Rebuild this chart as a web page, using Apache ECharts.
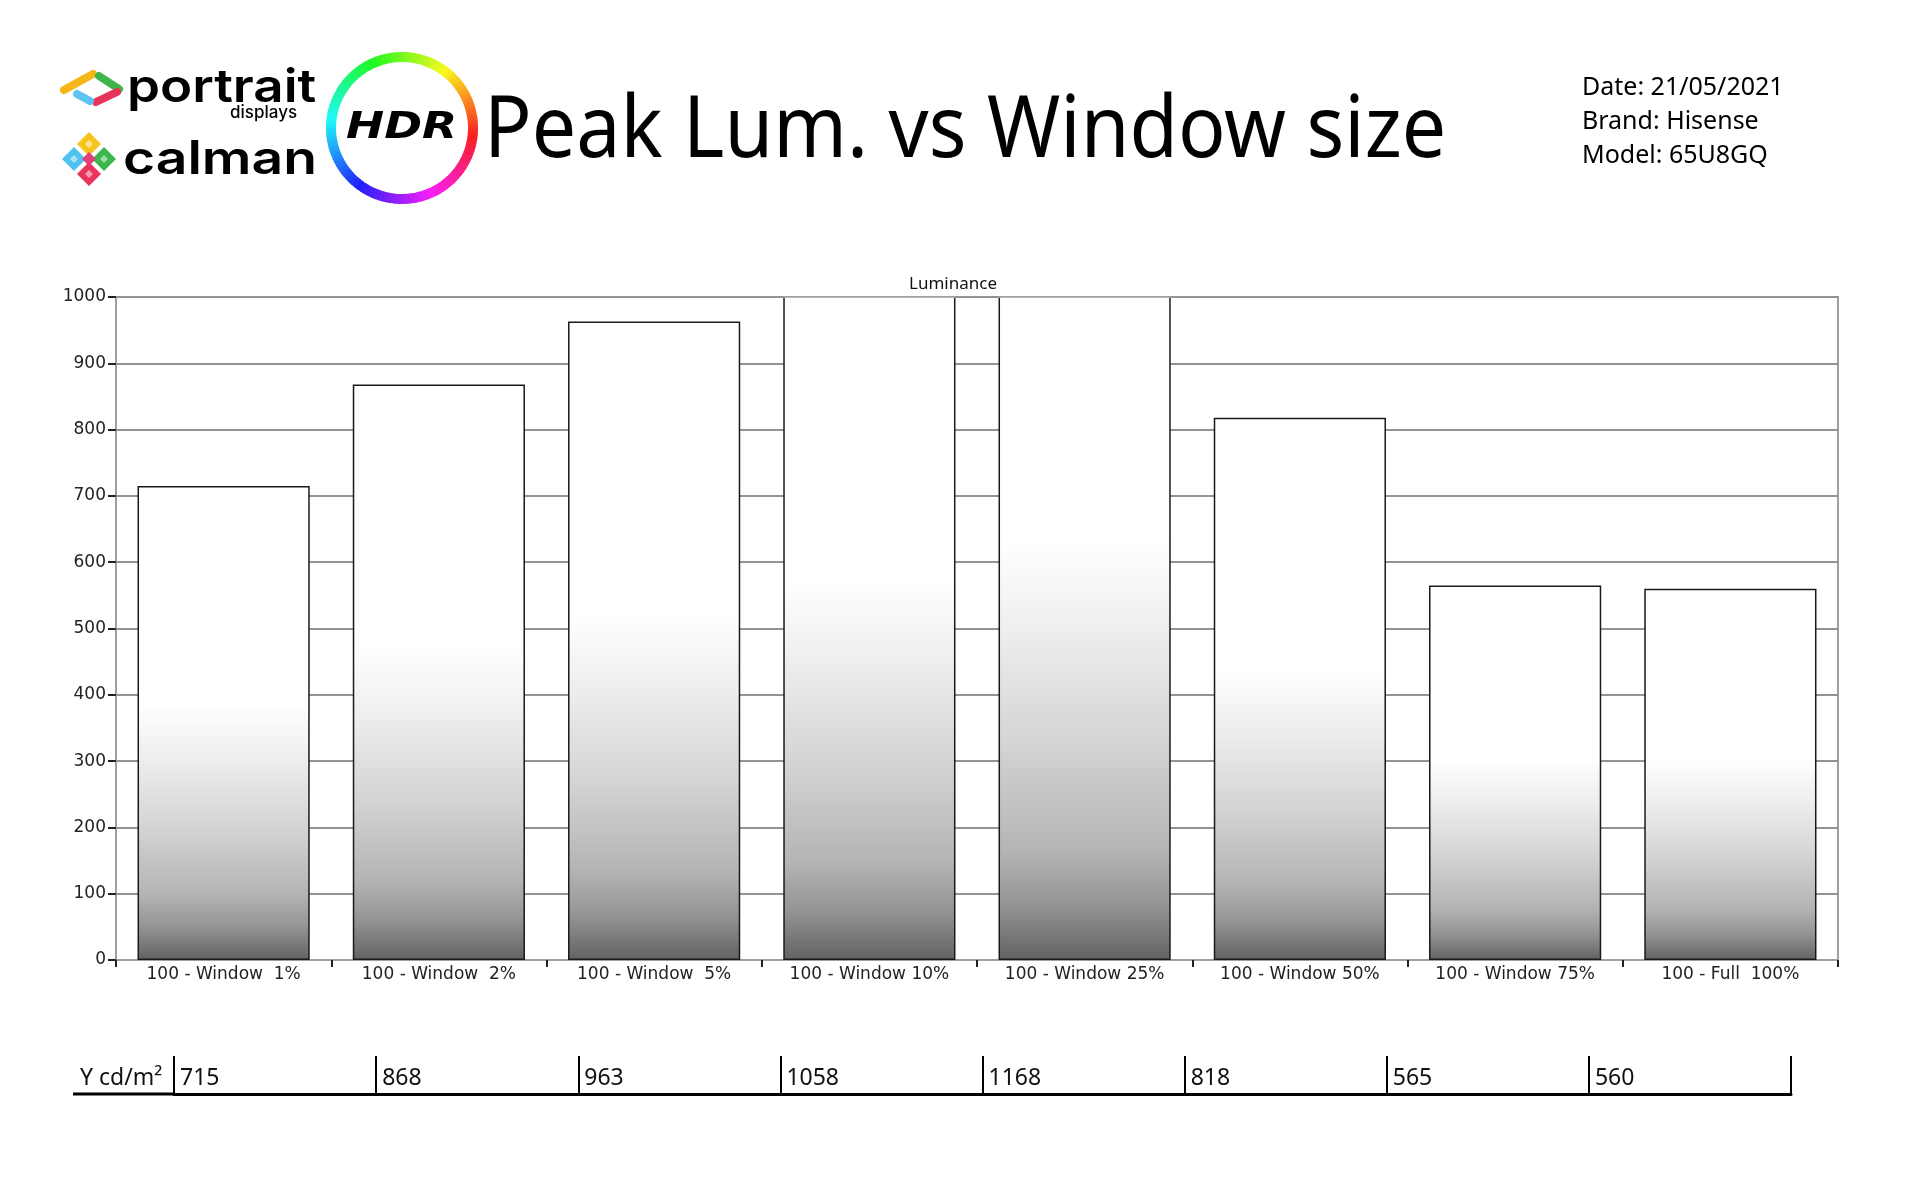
<!DOCTYPE html>
<html><head><meta charset="utf-8">
<script src="https://cdn.jsdelivr.net/npm/echarts@6/dist/echarts.min.js"></script>
<style>html,body{margin:0;padding:0;background:#fff}#c{width:1920px;height:1200px}</style>
</head><body><div id="c"></div>
<script>
// ---- data ----
const categories = ['100 - Window  1%', '100 - Window  2%', '100 - Window  5%', '100 - Window 10%', '100 - Window 25%', '100 - Window 50%', '100 - Window 75%', '100 - Full  100%'];
const luminance = [715, 868, 963, 1058, 1168, 818, 565, 560];
const yMin = 0;
const yMax = 1000;
const yInterval = 100;
const tableHeader = 'Y cd/m\u00B2';
const infoLines = ['Date: 21/05/2021', 'Brand: Hisense', 'Model: 65U8GQ'];
const mainTitle = 'Peak Lum. vs Window size';
const chartTitle = 'Luminance';

// ---- styling helpers ----
const baseStops = [[0,'#ffffff'],[0.46,'#ffffff'],[0.58,'#ededed'],[0.72,'#d4d4d4'],[0.86,'#b4b4b4'],[0.93,'#949494'],[1,'#626262']];
function barGradient(v){
  const stops = baseStops.map(function(s){
    let off = s[0];
    if (v > yMax) off = (s[0]*v - (v - yMax)) / yMax;
    return {offset: Math.max(0, Math.min(1, off)), color: s[1]};
  });
  return new echarts.graphic.LinearGradient(0, 0, 0, 1, stops);
}
// clipped bars: top edge coincides with the plot frame, keep it grey like the frame
function barBorder(v){
  if (v <= yMax) return '#1a1a1a';
  return new echarts.graphic.LinearGradient(0, 0, 0, 1, [
    {offset:0, color:'#a0a0a0'}, {offset:0.002, color:'#a0a0a0'},
    {offset:0.003, color:'#1a1a1a'}, {offset:1, color:'#1a1a1a'}]);
}
function txt(x, y, text, size, family, opts){
  opts = opts || {};
  return Object.assign({
    type: 'text', x: x, y: y, silent: true,
    style: Object.assign({text: text, fontSize: size, fontFamily: family, fill: '#000',
      align: 'left', verticalAlign: 'middle', textAlign: 'left', textVerticalAlign: 'middle'}, opts.style || {})
  }, opts.el || {});
}
function diamond(cx, cy, h, color){
  return {type:'polygon', silent:true, shape:{points:[[cx,cy-h],[cx+h,cy],[cx,cy+h],[cx-h,cy]]}, style:{fill:color}};
}

const graphics = [];
// HDR ring
const N = 120;
for (let i = 0; i < N; i++) {
  const a0 = i / N * 2 * Math.PI, a1 = (i + 1.2) / N * 2 * Math.PI;
  const hue = (i / N * 360 + 8) % 360;
  graphics.push({type:'arc', silent:true, shape:{cx:402, cy:128, r:71, startAngle:-a1, endAngle:-a0},
    style:{stroke:'hsl(' + hue.toFixed(1) + ',95%,55%)', lineWidth:10, fill:null}});
}
graphics.push(txt(346, 128, 'HDR', 38, 'DejaVu Sans', {style:{fontWeight:'bold', fontStyle:'italic'}, el:{scaleX:1.2}}));
// portrait icon
[['#f5b617',[[64,90],[93,74]]],['#3db54b',[[99,76],[119,89]]],['#e8345b',[[117,92],[96,102]]],['#5fc4ef',[[77,94],[90,101]]]].forEach(function(p){
  graphics.push({type:'line', silent:true, shape:{x1:p[1][0][0], y1:p[1][0][1], x2:p[1][1][0], y2:p[1][1][1]}, style:{stroke:p[0], lineWidth:8, lineCap:'round'}});
});
// calman icon
graphics.push(diamond(89, 144, 12, '#f7c21a'));
graphics.push(diamond(74, 159, 12, '#4fc3f0'));
graphics.push(diamond(104, 159, 12, '#3cb54a'));
graphics.push(diamond(89, 174, 12, '#e8335a'));
graphics.push(diamond(89, 159, 7, '#e2407a'));
graphics.push(diamond(89, 144, 4, '#ffe38a'));
graphics.push(diamond(74, 159, 4, '#a9e2f8'));
graphics.push(diamond(104, 159, 4, '#9bdca2'));
graphics.push(diamond(89, 174, 4, '#f59ab0'));
graphics.push(txt(127, 88, 'portrait', 46, 'Inter', {style:{fontWeight:600}, el:{scaleX:1.15}}));
graphics.push(txt(230, 113, 'displays', 17, 'Inter', {style:{fontWeight:500}}));
graphics.push(txt(123, 160, 'calman', 46, 'Inter', {style:{fontWeight:600}, el:{scaleX:1.2}}));
// titles and info
graphics.push(txt(484, 133, mainTitle, 85, 'Noto Sans', {el:{scaleX:0.928}}));
infoLines.forEach(function(l, i){ graphics.push(txt(1582, 88 + i * 34, l, 25, 'Noto Sans')); });
graphics.push(txt(953, 284, chartTitle, 17, 'Noto Sans', {style:{align:'center', textAlign:'center', fill:'#111'}}));
// table header
graphics.push(txt(80, 1078, tableHeader, 23, 'Noto Sans', {style:{fill:'#111'}}));
graphics.push({type:'line', silent:true, shape:{x1:73, y1:1094, x2:175, y2:1094}, style:{stroke:'#000', lineWidth:3}});

const chart = echarts.init(document.getElementById('c'), null, {renderer:'canvas'});
chart.setOption({
  animation: false,
  backgroundColor: '#ffffff',
  grid: [
    {left:116, right:82, top:297, bottom:240, show:true, borderColor:'#a0a0a0', borderWidth:2, outerBoundsMode:'none', containLabel:false},
    {left:174, right:129, top:1056, height:38, outerBoundsMode:'none', containLabel:false}
  ],
  xAxis: [
    {gridIndex:0, type:'category', data:categories,
      axisLine:{show:true, lineStyle:{color:'#a0a0a0', width:2}},
      axisTick:{show:true, interval:0, length:7, lineStyle:{color:'#222', width:2}},
      axisLabel:{interval:0, fontFamily:'DejaVu Sans', fontSize:17, color:'#222', margin:6},
      splitLine:{show:false}},
    {gridIndex:1, type:'category', data:categories,
      axisLine:{show:true, lineStyle:{color:'#000', width:3}},
      axisTick:{show:true, interval:0, inside:true, length:38, lineStyle:{color:'#000', width:2}},
      axisLabel:{show:false}, splitLine:{show:false}}
  ],
  yAxis: [
    {gridIndex:0, type:'value', min:yMin, max:yMax, interval:yInterval,
      axisLine:{show:true, lineStyle:{color:'#a0a0a0', width:2}},
      axisTick:{show:true, length:8, lineStyle:{color:'#222', width:2}},
      axisLabel:{fontFamily:'DejaVu Sans', fontSize:17, color:'#222', margin:10, formatter:function(v){ return String(v); }},
      splitLine:{show:true, lineStyle:{color:'#939393', width:2}}},
    {gridIndex:1, type:'value', min:0, max:1, show:false}
  ],
  series: [
    {type:'bar', name:chartTitle, xAxisIndex:0, yAxisIndex:0, barCategoryGap:'20%', clip:true, silent:true,
      itemStyle:{borderColor:'#1a1a1a', borderWidth:1.5},
      data: luminance.map(function(v){ return {value:v, itemStyle:{color:barGradient(v), borderColor:barBorder(v)}}; })},
    {type:'custom', xAxisIndex:1, yAxisIndex:1, silent:true,
      data: luminance.map(function(v, i){ return [i, v]; }),
      encode:{x:0, y:1},
      renderItem: function(params, api){
        const c = api.coord([api.value(0), 0]);
        const bw = api.size([1, 0])[0];
        return {type:'text', x:c[0] - bw/2 + 6, y:c[1] - 16,
          style:{text:String(api.value(1)), fontFamily:'Noto Sans', fontSize:23, fill:'#111', align:'left', verticalAlign:'middle'}};
      }}
  ],
  graphic: graphics
});
</script>
</body></html>
